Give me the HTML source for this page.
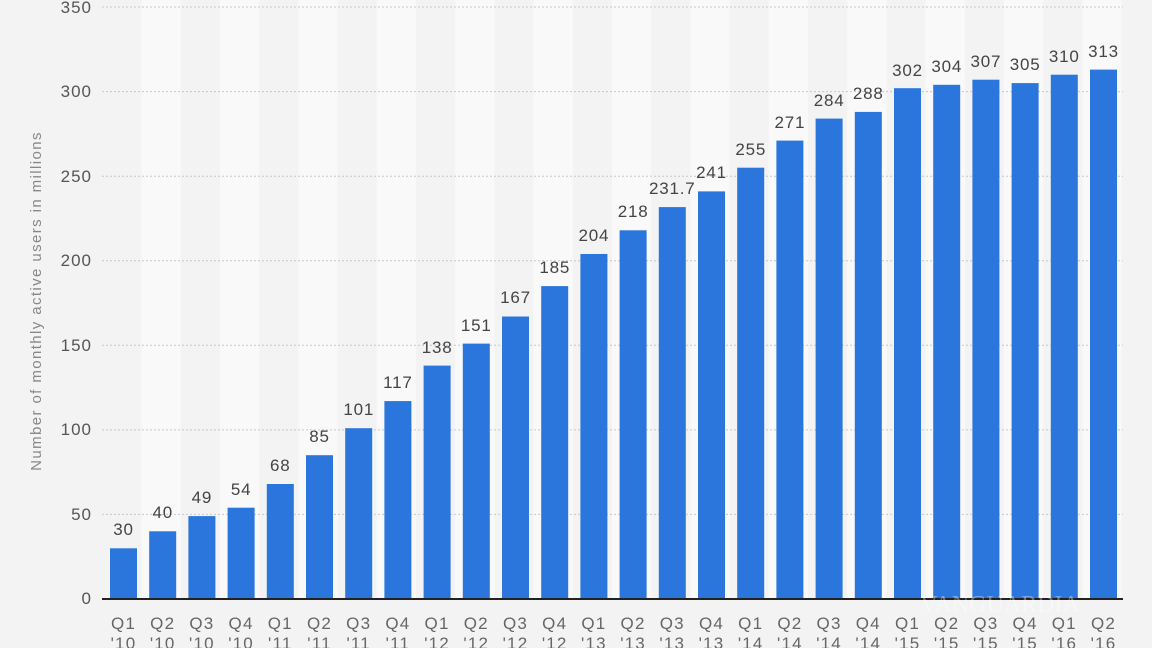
<!DOCTYPE html><html><head><meta charset="utf-8"><style>body{margin:0;background:#f3f3f3}svg{display:block;font-family:"Liberation Sans",sans-serif}</style></head><body>
<svg width="1152" height="648" viewBox="0 0 1152 648" xmlns="http://www.w3.org/2000/svg">
<rect width="1152" height="648" fill="#f3f3f3"/>
<g fill="#f9f9f9">
<rect x="141.6" y="0" width="39.2" height="599"/><rect x="220" y="0" width="39.2" height="599"/><rect x="298.4" y="0" width="39.2" height="599"/><rect x="376.8" y="0" width="39.2" height="599"/><rect x="455.2" y="0" width="39.2" height="599"/><rect x="533.6" y="0" width="39.2" height="599"/><rect x="612" y="0" width="39.2" height="599"/><rect x="690.4" y="0" width="39.2" height="599"/><rect x="768.8" y="0" width="39.2" height="599"/><rect x="847.2" y="0" width="39.2" height="599"/><rect x="925.6" y="0" width="39.2" height="599"/><rect x="1004" y="0" width="39.2" height="599"/><rect x="1082.4" y="0" width="39.2" height="599"/>
</g>
<g stroke="#c8c8c8" stroke-dasharray="2,2" stroke-width="1">
<line x1="102" x2="1123" y1="7" y2="7"/><line x1="102" x2="1123" y1="91.6" y2="91.6"/><line x1="102" x2="1123" y1="176.2" y2="176.2"/><line x1="102" x2="1123" y1="260.7" y2="260.7"/><line x1="102" x2="1123" y1="345.3" y2="345.3"/><line x1="102" x2="1123" y1="429.9" y2="429.9"/><line x1="102" x2="1123" y1="514.4" y2="514.4"/>
</g>
<g fill="#555" font-size="17" letter-spacing="1" text-anchor="end">
<text x="92" y="13">350</text><text x="92" y="97">300</text><text x="92" y="182">250</text><text x="92" y="266">200</text><text x="92" y="351">150</text><text x="92" y="435">100</text><text x="92" y="520">50</text><text x="92" y="604">0</text>
</g>
<text transform="translate(41,301) rotate(-90)" fill="#888" font-size="15" letter-spacing="1.4" text-anchor="middle">Number of monthly active users in millions</text>
<g fill="#2a76dd">
<rect x="110" y="548.3" width="27" height="50.7"/><rect x="149.2" y="531.3" width="27" height="67.7"/><rect x="188.4" y="516.1" width="27" height="82.9"/><rect x="227.6" y="507.7" width="27" height="91.3"/><rect x="266.8" y="484" width="27" height="115"/><rect x="306" y="455.2" width="27" height="143.8"/><rect x="345.2" y="428.2" width="27" height="170.8"/><rect x="384.4" y="401.1" width="27" height="197.9"/><rect x="423.6" y="365.6" width="27" height="233.4"/><rect x="462.8" y="343.6" width="27" height="255.4"/><rect x="502" y="316.5" width="27" height="282.5"/><rect x="541.2" y="286.1" width="27" height="312.9"/><rect x="580.4" y="254" width="27" height="345"/><rect x="619.6" y="230.3" width="27" height="368.7"/><rect x="658.8" y="207.1" width="27" height="391.9"/><rect x="698" y="191.4" width="27" height="407.6"/><rect x="737.2" y="167.7" width="27" height="431.3"/><rect x="776.4" y="140.6" width="27" height="458.4"/><rect x="815.6" y="118.6" width="27" height="480.4"/><rect x="854.8" y="111.9" width="27" height="487.1"/><rect x="894" y="88.2" width="27" height="510.8"/><rect x="933.2" y="84.8" width="27" height="514.2"/><rect x="972.4" y="79.7" width="27" height="519.3"/><rect x="1011.6" y="83.1" width="27" height="515.9"/><rect x="1050.8" y="74.7" width="27" height="524.3"/><rect x="1090" y="69.6" width="27" height="529.4"/>
</g>
<line x1="102" x2="1123" y1="599" y2="599" stroke="#222" stroke-width="2"/>
<g fill="#444" font-size="17" letter-spacing="0.8" text-anchor="middle">
<text x="123.5" y="535">30</text><text x="162.7" y="518">40</text><text x="201.9" y="503">49</text><text x="241.1" y="495">54</text><text x="280.3" y="471">68</text><text x="319.5" y="442">85</text><text x="358.7" y="415">101</text><text x="397.9" y="388">117</text><text x="437.1" y="353">138</text><text x="476.3" y="331">151</text><text x="515.5" y="303">167</text><text x="554.7" y="273">185</text><text x="593.9" y="241">204</text><text x="633.1" y="217">218</text><text x="672.3" y="194">231.7</text><text x="711.5" y="178">241</text><text x="750.7" y="155">255</text><text x="789.9" y="128">271</text><text x="829.1" y="106">284</text><text x="868.3" y="99">288</text><text x="907.5" y="76">302</text><text x="946.7" y="72">304</text><text x="985.9" y="67">307</text><text x="1025.1" y="70">305</text><text x="1064.3" y="62">310</text><text x="1103.5" y="57">313</text>
</g>
<g fill="#666" font-size="17" letter-spacing="1.2" text-anchor="middle">
<text x="123.5" y="629">Q1</text><text x="162.7" y="629">Q2</text><text x="201.9" y="629">Q3</text><text x="241.1" y="629">Q4</text><text x="280.3" y="629">Q1</text><text x="319.5" y="629">Q2</text><text x="358.7" y="629">Q3</text><text x="397.9" y="629">Q4</text><text x="437.1" y="629">Q1</text><text x="476.3" y="629">Q2</text><text x="515.5" y="629">Q3</text><text x="554.7" y="629">Q4</text><text x="593.9" y="629">Q1</text><text x="633.1" y="629">Q2</text><text x="672.3" y="629">Q3</text><text x="711.5" y="629">Q4</text><text x="750.7" y="629">Q1</text><text x="789.9" y="629">Q2</text><text x="829.1" y="629">Q3</text><text x="868.3" y="629">Q4</text><text x="907.5" y="629">Q1</text><text x="946.7" y="629">Q2</text><text x="985.9" y="629">Q3</text><text x="1025.1" y="629">Q4</text><text x="1064.3" y="629">Q1</text><text x="1103.5" y="629">Q2</text>
<text x="123.5" y="649">'10</text><text x="162.7" y="649">'10</text><text x="201.9" y="649">'10</text><text x="241.1" y="649">'10</text><text x="280.3" y="649">'11</text><text x="319.5" y="649">'11</text><text x="358.7" y="649">'11</text><text x="397.9" y="649">'11</text><text x="437.1" y="649">'12</text><text x="476.3" y="649">'12</text><text x="515.5" y="649">'12</text><text x="554.7" y="649">'12</text><text x="593.9" y="649">'13</text><text x="633.1" y="649">'13</text><text x="672.3" y="649">'13</text><text x="711.5" y="649">'13</text><text x="750.7" y="649">'14</text><text x="789.9" y="649">'14</text><text x="829.1" y="649">'14</text><text x="868.3" y="649">'14</text><text x="907.5" y="649">'15</text><text x="946.7" y="649">'15</text><text x="985.9" y="649">'15</text><text x="1025.1" y="649">'15</text><text x="1064.3" y="649">'16</text><text x="1103.5" y="649">'16</text>
</g>
<text x="1000" y="612" fill="#ffffff" fill-opacity="0.35" font-family="Liberation Serif,serif" font-size="24" text-anchor="middle">VANGUARDIA</text>
</svg>
</body></html>
